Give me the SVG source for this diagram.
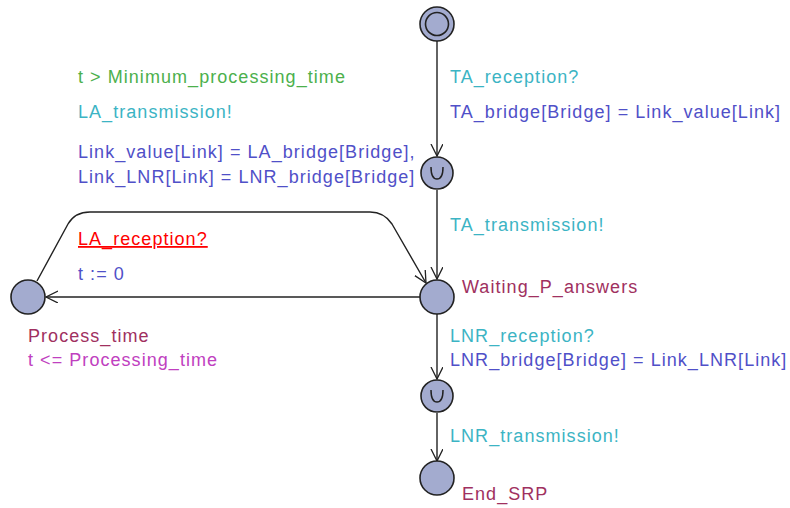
<svg xmlns="http://www.w3.org/2000/svg" width="790" height="508" viewBox="0 0 790 508">
<style>
text{font-family:"Liberation Sans",Arial,sans-serif;font-size:18px;letter-spacing:1.05px}
.loc{fill:#a3abcf;stroke:#222;stroke-width:1.6}
.e{fill:none;stroke:#222;stroke-width:1.4}
.g{fill:#4cb04c}.s{fill:#3cb4c4}.u{fill:#5050c8}.n{fill:#a03060}.i{fill:#c040c0}.r{fill:#ff0000}
</style>
<defs>
<marker id="a" markerWidth="14" markerHeight="14" refX="12" refY="6" orient="auto" markerUnits="userSpaceOnUse"><path d="M0,0 L12,6 L0,12" fill="none" stroke="#222" stroke-width="1.3"/></marker>
</defs>
<g id="edges">
<line class="e" x1="437" y1="41" x2="437" y2="156" marker-end="url(#a)"/>
<line class="e" x1="437" y1="190" x2="437" y2="279" marker-end="url(#a)"/>
<line class="e" x1="420" y1="297" x2="46" y2="297" marker-end="url(#a)"/>
<path class="e" d="M37,281 L68,224 Q75,212 90,212 L370,212 Q384,212 392,224 L426,283" marker-end="url(#a)"/>
<line class="e" x1="437" y1="314" x2="437" y2="379" marker-end="url(#a)"/>
<line class="e" x1="437" y1="413" x2="437" y2="461" marker-end="url(#a)"/>
</g>
<g id="init"><circle class="loc" cx="437" cy="24" r="17"/><circle cx="437" cy="24" r="11.5" fill="none" stroke="#222" stroke-width="1.6"/></g>
<g id="c1"><circle class="loc" cx="437" cy="173" r="16"/><path d="M431,167 Q431,179 437,179 Q443,179 443,167" fill="none" stroke="#222" stroke-width="1.5"/></g>
<g id="waiting"><circle class="loc" cx="437" cy="297" r="17"/><text x="462" y="293" class="n">Waiting_P_answers</text></g>
<g id="process"><circle class="loc" cx="28" cy="297" r="17"/><text x="28" y="342" class="n">Process_time</text><text x="28" y="366" class="i">t &lt;= Processing_time</text></g>
<g id="c2"><circle class="loc" cx="437" cy="396" r="16"/><path d="M431,390 Q431,402 437,402 Q443,402 443,390" fill="none" stroke="#222" stroke-width="1.5"/></g>
<g id="end"><circle class="loc" cx="437" cy="478" r="17"/><text x="462" y="500" class="n">End_SRP</text></g>
<g id="labels">
<text x="450" y="83" class="s">TA_reception?</text>
<text x="450" y="118" class="u">TA_bridge[Bridge] = Link_value[Link]</text>
<text x="450" y="231" class="s">TA_transmission!</text>
<text x="78" y="83" class="g">t &gt; Minimum_processing_time</text>
<text x="78" y="118" class="s">LA_transmission!</text>
<text x="78" y="158" class="u">Link_value[Link] = LA_bridge[Bridge],</text>
<text x="78" y="183" class="u">Link_LNR[Link] = LNR_bridge[Bridge]</text>
<text x="78" y="245" class="r" text-decoration="underline">LA_reception?</text>
<text x="78" y="280" class="u">t := 0</text>
<text x="450" y="342" class="s">LNR_reception?</text>
<text x="450" y="366" class="u">LNR_bridge[Bridge] = Link_LNR[Link]</text>
<text x="450" y="442" class="s">LNR_transmission!</text>
</g>
</svg>
